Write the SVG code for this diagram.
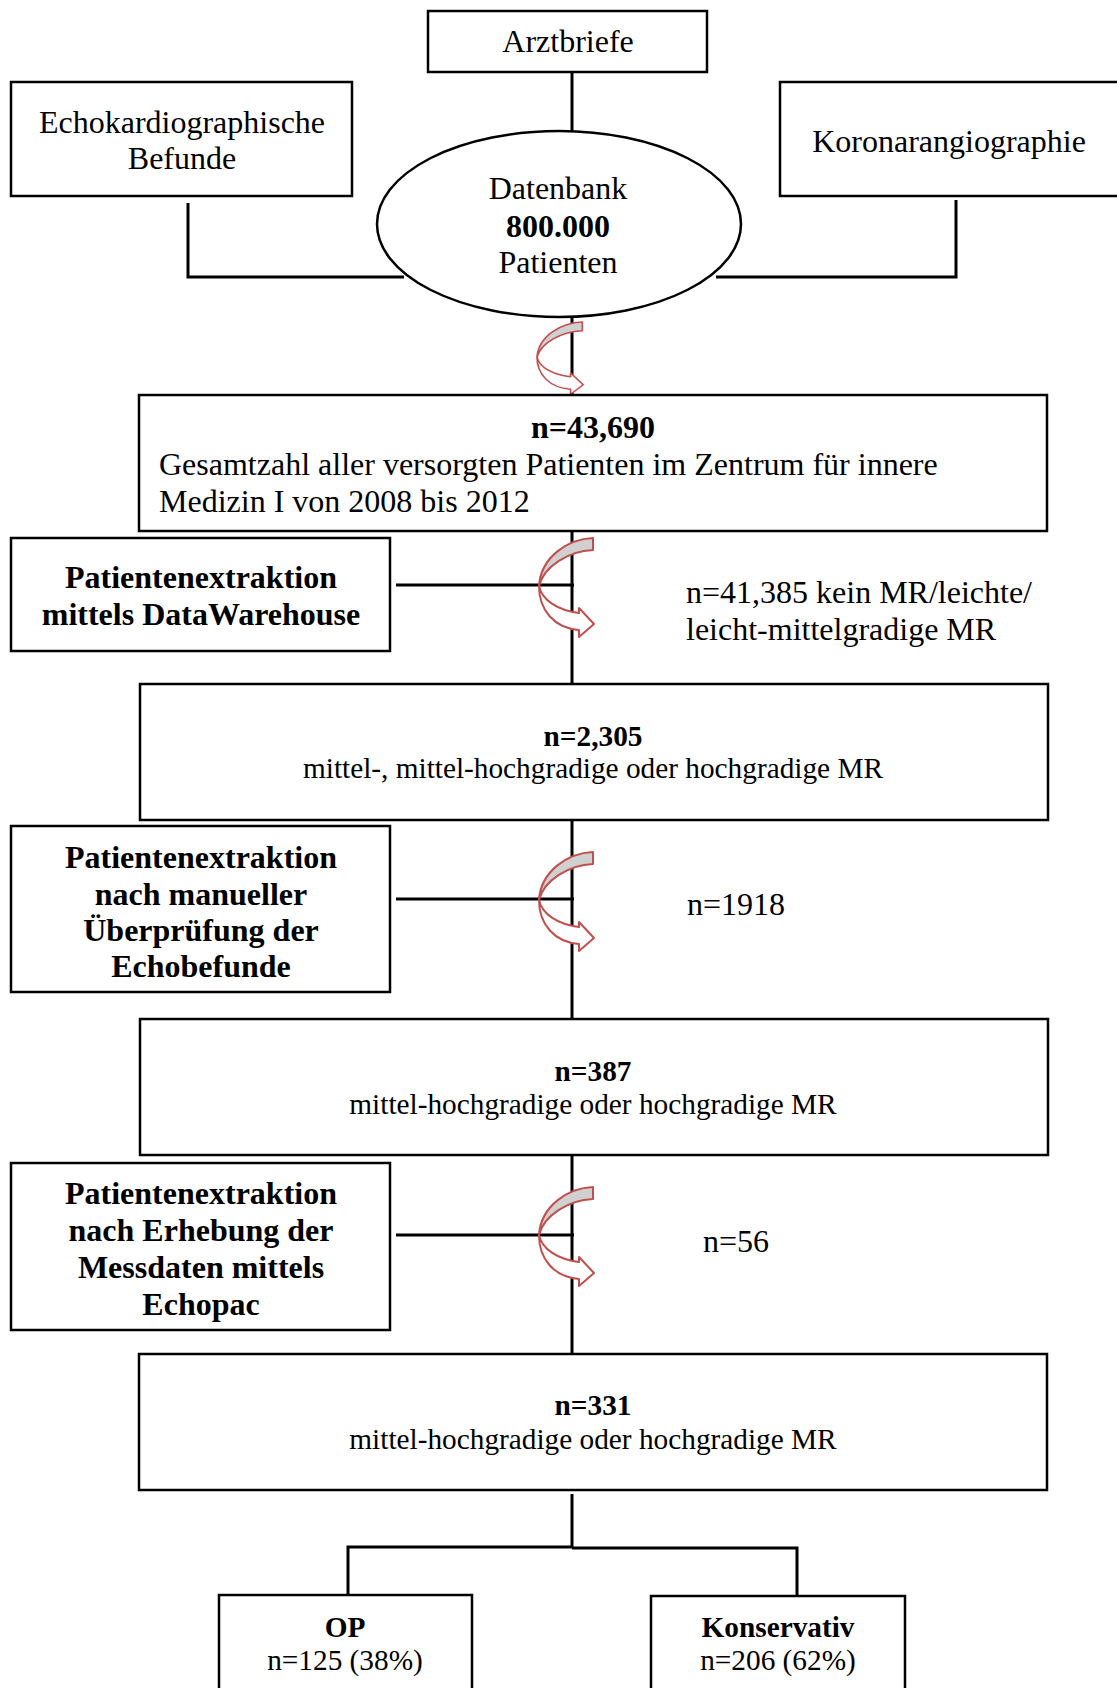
<svg xmlns="http://www.w3.org/2000/svg" width="1117" height="1688" viewBox="0 0 1117 1688">
<defs>
<style>
text{font-family:"Liberation Serif","Times New Roman",serif;fill:#000}
.t32{font-size:32px}
.t29{font-size:29.3px}
.b{font-weight:bold}
.m{text-anchor:middle}
.box{fill:#fff;stroke:#000;stroke-width:2.5}
.ln{fill:none;stroke:#000;stroke-width:3}
.ar{stroke:#c0504d;stroke-width:2;stroke-linejoin:round}
</style>
<g id="curvedArrow">
<path class="ar" fill="#fff" d="M 0,48 C 3,62 18,72 40,75 L 40,70 L 55,86 L 40,99 L 40,92 C 15,90 0,72 0,48 Z"/>
<path class="ar" fill="#d0d0d0" d="M 54,0 L 54,12 C 30,13 5,28 0,48 C 2,18 30,1 54,0 Z"/>
</g>
</defs>
<rect width="1117" height="1688" fill="#fff"/>

<g id="connectors">
<line class="ln" x1="572" y1="72" x2="572" y2="131"/>
<polyline class="ln" points="188,203 188,277 404,277"/>
<polyline class="ln" points="956,200 956,277 716,277"/>
<line class="ln" x1="572" y1="317" x2="572" y2="395"/>
<line class="ln" x1="572" y1="531" x2="572" y2="684"/>
<line class="ln" x1="396" y1="585" x2="574" y2="585"/>
<line class="ln" x1="572" y1="820" x2="572" y2="1019"/>
<line class="ln" x1="396" y1="899" x2="574" y2="899"/>
<line class="ln" x1="572" y1="1155" x2="572" y2="1354"/>
<line class="ln" x1="396" y1="1235" x2="574" y2="1235"/>
<line class="ln" x1="572" y1="1494" x2="572" y2="1548"/>
<polyline class="ln" points="348,1595 348,1547 572,1547"/>
<polyline class="ln" points="572,1548 797,1548 797,1595"/>
<use href="#curvedArrow" transform="translate(537,322) scale(0.84,0.73)"/>
<use href="#curvedArrow" transform="translate(539,538)"/>
<use href="#curvedArrow" transform="translate(539,852)"/>
<use href="#curvedArrow" transform="translate(539,1187)"/>
</g>

<g id="arztbriefe">
<rect class="box" x="428" y="11" width="279" height="61"/>
<text class="t32 m" x="568" y="52">Arztbriefe</text>
</g>
<g id="echo">
<rect class="box" x="11" y="82" width="341" height="114"/>
<text class="t32 m" x="182" y="133">Echokardiographische</text>
<text class="t32 m" x="182" y="169">Befunde</text>
</g>
<g id="koronar">
<rect class="box" x="780" y="82" width="360" height="114"/>
<text class="t32 m" x="949" y="152">Koronarangiographie</text>
</g>
<g id="datenbank">
<ellipse class="box" cx="559" cy="224" rx="182" ry="93"/>
<text class="t32 m" x="558" y="199">Datenbank</text>
<text class="t32 m b" x="558" y="237">800.000</text>
<text class="t32 m" x="558" y="273">Patienten</text>
</g>
<g id="n43690">
<rect class="box" x="139" y="395" width="908" height="136"/>
<text class="t32 m b" x="593" y="438">n=43,690</text>
<text class="t32" x="159" y="475">Gesamtzahl aller versorgten Patienten im Zentrum für innere</text>
<text class="t32" x="159" y="512">Medizin I von 2008 bis 2012</text>
</g>
<g id="extraktion1">
<rect class="box" x="11" y="538" width="379" height="113"/>
<text class="t32 m b" x="201" y="588">Patientenextraktion</text>
<text class="t32 m b" x="201" y="625">mittels DataWarehouse</text>
</g>
<g id="excluded1">
<text class="t32" x="686" y="603">n=41,385 kein MR/leichte/</text>
<text class="t32" x="686" y="640">leicht-mittelgradige MR</text>
</g>
<g id="n2305">
<rect class="box" x="140" y="684" width="908" height="136"/>
<text class="t29 m b" x="593" y="746">n=2,305</text>
<text class="t29 m" x="593" y="778">mittel-, mittel-hochgradige oder hochgradige MR</text>
</g>
<g id="extraktion2">
<rect class="box" x="11" y="826" width="379" height="166"/>
<text class="t32 m b" x="201" y="868">Patientenextraktion</text>
<text class="t32 m b" x="201" y="905">nach manueller</text>
<text class="t32 m b" x="201" y="941">Überprüfung der</text>
<text class="t32 m b" x="201" y="977">Echobefunde</text>
</g>
<g id="excluded2">
<text class="t32" x="687" y="915">n=1918</text>
</g>
<g id="n387">
<rect class="box" x="140" y="1019" width="908" height="136"/>
<text class="t29 m b" x="593" y="1081">n=387</text>
<text class="t29 m" x="593" y="1114">mittel-hochgradige oder hochgradige MR</text>
</g>
<g id="extraktion3">
<rect class="box" x="11" y="1163" width="379" height="167"/>
<text class="t32 m b" x="201" y="1204">Patientenextraktion</text>
<text class="t32 m b" x="201" y="1241">nach Erhebung der</text>
<text class="t32 m b" x="201" y="1278">Messdaten mittels</text>
<text class="t32 m b" x="201" y="1315">Echopac</text>
</g>
<g id="excluded3">
<text class="t32" x="703" y="1252">n=56</text>
</g>
<g id="n331">
<rect class="box" x="139" y="1354" width="908" height="136"/>
<text class="t29 m b" x="593" y="1415">n=331</text>
<text class="t29 m" x="593" y="1449">mittel-hochgradige oder hochgradige MR</text>
</g>
<g id="op">
<rect class="box" x="219" y="1595" width="253" height="120"/>
<text class="t29 m b" x="345" y="1637">OP</text>
<text class="t29 m" x="345" y="1670">n=125 (38%)</text>
</g>
<g id="konservativ">
<rect class="box" x="651" y="1596" width="254" height="120"/>
<text class="t29 m b" x="778" y="1637">Konservativ</text>
<text class="t29 m" x="778" y="1670">n=206 (62%)</text>
</g>
</svg>
